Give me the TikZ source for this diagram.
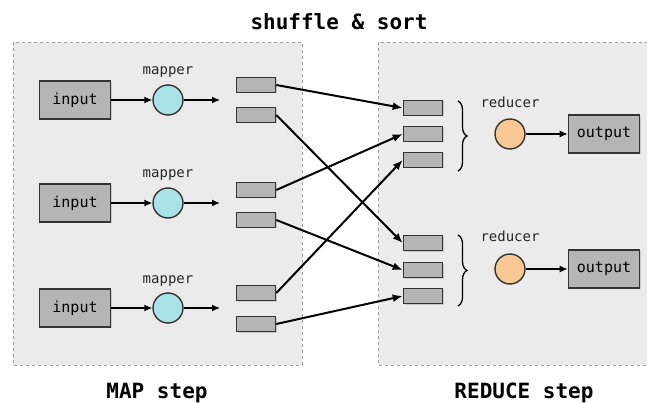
\documentclass[tikz,border=0pt]{standalone}
\usepackage{fontspec}
\setmonofont{DejaVu Sans Mono}
\usetikzlibrary{arrows.meta,decorations.pathreplacing,shadows}

\definecolor{panelgray}{HTML}{EBEBEB}
\definecolor{boxgray}{HTML}{B5B5B5}
\definecolor{mapcyan}{HTML}{A9E3E5}
\definecolor{redorange}{HTML}{F8C894}

\tikzset{
  panel/.style={draw=gray!75, dashed, fill=panelgray},
  databox/.style={draw=black!80, fill=boxgray, line width=1.7pt, minimum width=71pt, minimum height=38pt, inner sep=0pt,
    font=\ttfamily\fontsize{15}{15}\selectfont, drop shadow={shadow xshift=1pt,shadow yshift=-1pt,opacity=0.3}},
  chunk/.style={draw=black!80, fill=boxgray, line width=1.6pt, minimum width=39pt, minimum height=15pt, inner sep=0pt,
    drop shadow={shadow xshift=1pt,shadow yshift=-1pt,opacity=0.3}},
  mapnode/.style={circle, draw=black!80, fill=mapcyan, line width=1.4pt, minimum size=30pt, inner sep=0pt},
  rednode/.style={circle, draw=black!80, fill=redorange, line width=1.4pt, minimum size=30pt, inner sep=0pt},
  lbl/.style={anchor=base, font=\ttfamily\fontsize{14}{14}\selectfont, text=black!85},
  steplbl/.style={anchor=base, font=\ttfamily\bfseries\fontsize{21}{21}\selectfont},
  flow/.style={-{Latex[length=8pt,width=7pt]}, line width=1.2pt},
  shuffle/.style={-{Latex[length=10pt,width=8pt]}, line width=2pt},
}

\begin{document}
\begin{tikzpicture}[x=1pt,y=-1pt]
  \useasboundingbox (0,0) rectangle (647,403);

  \draw[panel] (13,42) rectangle (302,365);
  \draw[panel] (378,42) rectangle (652,365);

  \node[steplbl] (title) at (339,30) {shuffle \& sort};
  \node[steplbl] (mapstep) at (157,398) {MAP step};
  \node[steplbl] (redstep) at (524,398) {REDUCE step};

  \node[databox] (in1) at (75,100) {input};
  \node[databox] (in2) at (75,203) {input};
  \node[databox] (in3) at (75,308) {input};

  \node[mapnode] (m1) at (168,100) {};
  \node[mapnode] (m2) at (168,203) {};
  \node[mapnode] (m3) at (168,308) {};
  \node[lbl] (ml1) at (168,75) {mapper};
  \node[lbl] (ml2) at (168,178) {mapper};
  \node[lbl] (ml3) at (168,283) {mapper};

  \coordinate (e1) at (220,100);
  \coordinate (e2) at (220,203);
  \coordinate (e3) at (220,308);

  \draw[flow] (in1) -- (m1);
  \draw[flow] (in2) -- (m2);
  \draw[flow] (in3) -- (m3);
  \draw[flow] (m1) -- (e1);
  \draw[flow] (m2) -- (e2);
  \draw[flow] (m3) -- (e3);

  \node[chunk] (a1) at (256,85) {};
  \node[chunk] (b1) at (256,115) {};
  \node[chunk] (a2) at (256,190) {};
  \node[chunk] (b2) at (256,220) {};
  \node[chunk] (a3) at (256,293) {};
  \node[chunk] (b3) at (256,324) {};

  \node[chunk] (p1) at (423,108) {};
  \node[chunk] (p2) at (423,134) {};
  \node[chunk] (p3) at (423,160) {};
  \node[chunk] (q1) at (423,243) {};
  \node[chunk] (q2) at (423,270) {};
  \node[chunk] (q3) at (423,296) {};

  \draw[shuffle] (a1.east) -- (p1.west);
  \draw[shuffle] (b1.east) -- (q1.west);
  \draw[shuffle] (a2.east) -- (p2.west);
  \draw[shuffle] (b2.east) -- (q2.west);
  \draw[shuffle] (a3.east) -- (p3.west);
  \draw[shuffle] (b3.east) -- (q3.west);

  \coordinate (br1) at (458,101);
  \coordinate (br2) at (458,171);
  \coordinate (br3) at (458,235);
  \coordinate (br4) at (458,306);
  \draw[line width=1.3pt, decorate, decoration={brace, amplitude=9pt}] (br1) -- (br2);
  \draw[line width=1.3pt, decorate, decoration={brace, amplitude=9pt}] (br3) -- (br4);

  \node[rednode] (r1) at (510,134) {};
  \node[rednode] (r2) at (510,269) {};
  \node[lbl] (rl1) at (510,108) {reducer};
  \node[lbl] (rl2) at (510,241) {reducer};

  \node[databox] (out1) at (604,134) {output};
  \node[databox] (out2) at (604,269) {output};

  \draw[flow] (r1) -- (out1);
  \draw[flow] (r2) -- (out2);
\end{tikzpicture}
\end{document}
